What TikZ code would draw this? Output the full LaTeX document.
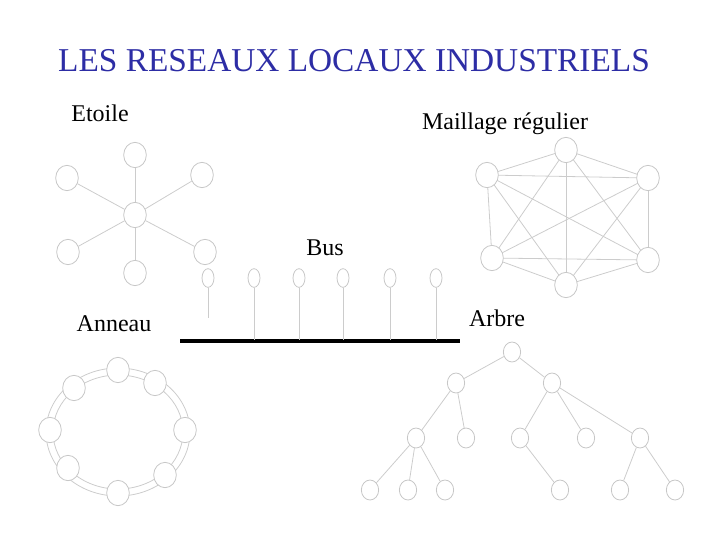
\documentclass[tikz,border=0pt]{standalone}
\usepackage{fontspec}
\setmainfont{Liberation Serif}
\usetikzlibrary{shapes.geometric,backgrounds}
\begin{document}
\begin{tikzpicture}[x=0.75pt,y=-0.75pt,
  nd/.style={draw=black!22,fill=white,ellipse,inner sep=0pt,minimum width=17pt,minimum height=19pt,line width=0.6pt},
  bn/.style={draw=black!22,fill=white,ellipse,inner sep=0pt,minimum width=9pt,minimum height=14pt,line width=0.6pt},
  ln/.style={draw=black!20,line width=0.6pt},
  lbl/.style={font=\fontsize{18}{21}\selectfont,anchor=base}]
\useasboundingbox (0,0) rectangle (720,540);
\node[font=\fontsize{25}{30}\selectfont,text={rgb,255:red,45;green,45;blue,165},anchor=base] (title) at (354,71) {LES RESEAUX LOCAUX INDUSTRIELS};
\node[lbl] (le) at (100,121) {Etoile};
\node[lbl] (lm) at (505,129) {Maillage régulier};
\node[lbl] (lb) at (325,255) {Bus};
\node[lbl] (la) at (114,331) {Anneau};
\node[lbl] (lr) at (497,326) {Arbre};
% star
\node[nd] (sc) at (135,215) {};
\foreach \n/\x/\y in {s1/135/155,s2/67/178,s3/202/175,s4/68/252,s5/205/252,s6/135/273}{
  \node[nd] (\n) at (\x,\y) {};
  \draw[ln] (sc) -- (\n);}
% mesh
\foreach \n/\x/\y in {m1/566/150,m2/487/175,m3/648/178,m4/492/258,m5/648/260,m6/566/285}{
  \node[nd] (\n) at (\x,\y) {};}
\begin{scope}[on background layer]
\foreach \a/\b in {m1/m2,m1/m3,m1/m4,m1/m5,m1/m6,m2/m3,m2/m4,m2/m5,m2/m6,m3/m4,m3/m5,m3/m6,m4/m5,m4/m6,m5/m6}
  \draw[ln] (\a.center) -- (\b.center);
\end{scope}
% bus
\coordinate (bl) at (180,341); \coordinate (br) at (460,341);
\draw[line width=3.2pt] (bl) -- (br);
\foreach \n/\x in {b2/254,b3/299,b4/343,b5/390,b6/436}{
  \node[bn] (\n) at (\x,278) {};
  \coordinate (\n e) at (\x,340);
  \draw[ln] (\n) -- (\n e);}
\node[bn] (b1) at (208,278) {};
\coordinate (b1e) at (208,318);
\draw[ln] (b1) -- (b1e);
% ring
\draw[ln] (118,432) ellipse (65 and 57);
\draw[ln] (118,432) ellipse (72 and 64);
\foreach \n/\x/\y in {r1/118/370,r2/74/388,r3/155/383,r4/185/430,r5/165/475,r6/118/493,r7/68/468,r8/50/430}{
  \node[nd] (\n) at (\x,\y) {};}
% tree
\foreach \n/\x/\y in {t0/512/352,t1/456/383,t2/552/383,t3/416/438,t4/466/438,t5/520/438,t6/586/438,t7/640/438,t8/370/490,t9/408/490,t10/445/490,t11/560/490,t12/620/490,t13/675/490}{
  \node[nd,minimum width=13pt,minimum height=15pt] (\n) at (\x,\y) {};}
\foreach \a/\b in {t0/t1,t0/t2,t1/t3,t1/t4,t2/t5,t2/t6,t2/t7,t3/t8,t3/t9,t3/t10,t5/t11,t7/t12,t7/t13}
  \draw[ln] (\a) -- (\b);
\end{tikzpicture}
\end{document}
